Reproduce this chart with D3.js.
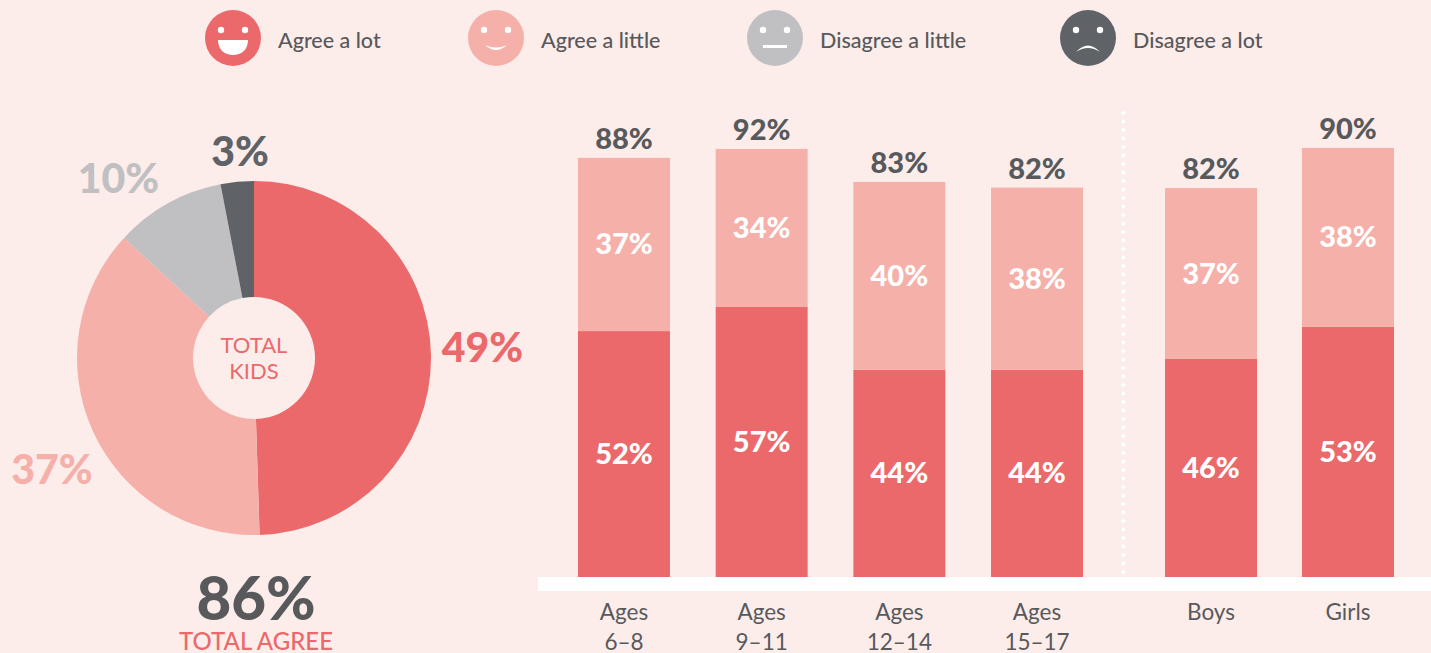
<!DOCTYPE html>
<html>
<head>
<meta charset="utf-8">
<script src="https://d3js.org/d3.v7.min.js"></script>
<style>
  html, body { margin: 0; padding: 0; background: #fcedeb; overflow: hidden; }
  text { font-family: Lato, "Open Sans", sans-serif; }
  .axis path, .axis line { display: none; }
</style>
</head>
<body>
<div id="chart"></div>
<script>
// legend + donut data
var answers = ["Agree a lot", "Agree a little", "Disagree a little", "Disagree a lot"];
var totalKids = [49, 37, 10, 3];

// stacked bars: heights, labels as printed
var ageGroups = ["Ages 6–8", "Ages 9–11", "Ages 12–14", "Ages 15–17"];
var genders = ["Boys", "Girls"];
var agreeLot = [52.1, 57.2, 43.9, 43.9, 46.2, 53];
var agreeLittle = [36.7, 33.5, 39.8, 38.6, 36.2, 37.9];
var agreeLotLabels = ["52%", "57%", "44%", "44%", "46%", "53%"];
var agreeLittleLabels = ["37%", "34%", "40%", "38%", "37%", "38%"];
var totalLabels = ["88%", "92%", "83%", "82%", "82%", "90%"];

var width = 1431,
  height = 653;
var RED = "#eb696b", PINK = "#f5b0a9", GREY = "#c0c0c2", DARK = "#5f6266", TEXT = "#58595b";
var colors = [RED, PINK, GREY, DARK];

var svg = d3.select("#chart")
  .append("svg")
  .attr("width", width)
  .attr("height", height)
  .style("display", "block");

// legend
var legendX = [233, 496, 775, 1088];
var mouths = [
  "M-15,2 H15 C15,12 8,17 0,17 C-8,17 -15,12 -15,2 Z",
  "M-11,7 Q0,17 11,7 Q0,12 -11,7 Z",
  "M-12,7 H12 V10 H-12 Z",
  "M-12,14 Q0,1 12,14 Q0,6 -12,14 Z"
];
var legend = svg.selectAll(".legend")
  .data(answers)
  .enter().append("g")
  .attr("class", "legend")
  .attr("transform", function(d, i) { return "translate(" + legendX[i] + ",38)"; });
legend.append("circle")
  .attr("r", 28)
  .style("fill", function(d, i) { return colors[i]; });
legend.selectAll(".eye")
  .data([-12, 12])
  .enter().append("circle")
  .attr("class", "eye")
  .attr("cx", function(d) { return d; })
  .attr("cy", -8)
  .attr("r", 3.2)
  .style("fill", "#fff");
legend.append("path")
  .attr("d", function(d, i) { return mouths[i]; })
  .style("fill", "#fff");
legend.append("text")
  .attr("x", 45)
  .attr("y", 10)
  .style("font-size", "21.5px")
  .style("font-weight", 500)
  .style("fill", TEXT)
  .text(function(d) { return d; });

// donut
var pie = d3.pie().sort(null);
var arc = d3.arc().innerRadius(61).outerRadius(177);
var donut = svg.append("g").attr("transform", "translate(254,358)");
donut.selectAll("path")
  .data(pie(totalKids))
  .enter().append("path")
  .attr("d", arc)
  .style("fill", function(d, i) { return colors[i]; });

var donutText = [
  { x: 482.5, y: 362, size: 41 },
  { x: 52, y: 484, size: 41 },
  { x: 118.5, y: 193, size: 41 },
  { x: 240, y: 166, size: 41 }
];
svg.selectAll(".pct")
  .data(totalKids)
  .enter().append("text")
  .attr("class", "pct")
  .attr("x", function(d, i) { return donutText[i].x; })
  .attr("y", function(d, i) { return donutText[i].y; })
  .attr("text-anchor", "middle")
  .style("font-size", function(d, i) { return donutText[i].size + "px"; })
  .style("font-weight", 900)
  .style("fill", function(d, i) { return colors[i]; })
  .text(function(d) { return d + "%"; });

svg.selectAll(".centre")
  .data(["TOTAL", "KIDS"])
  .enter().append("text")
  .attr("class", "centre")
  .attr("x", 254)
  .attr("y", function(d, i) { return 353 + i * 26; })
  .attr("text-anchor", "middle")
  .style("font-size", "22px")
  .style("fill", RED)
  .text(function(d) { return d; });

svg.append("text")
  .attr("x", 256)
  .attr("y", 620)
  .attr("text-anchor", "middle")
  .style("font-size", "60px")
  .style("font-weight", 900)
  .style("fill", TEXT)
  .text("86%");
svg.append("text")
  .attr("x", 256)
  .attr("y", 650)
  .attr("text-anchor", "middle")
  .style("font-size", "24px")
  .style("font-weight", 500)
  .style("fill", RED)
  .text("TOTAL AGREE");

// bars, two groups with their own band scale
var baseY = 577;
var y = d3.scaleLinear().domain([0, 100]).range([baseY, baseY - 472]);
var xAge = d3.scaleBand().domain(ageGroups).range([578, 1083]).paddingInner(0.332);
var xGender = d3.scaleBand().domain(genders).range([1165, 1394]).paddingInner(0.328);

var bars = ageGroups.concat(genders).map(function(name, i) {
  var scale = i < ageGroups.length ? xAge : xGender;
  return {
    name: name,
    x: scale(name),
    w: scale.bandwidth(),
    lot: agreeLot[i],
    little: agreeLittle[i],
    lotLabel: agreeLotLabels[i],
    littleLabel: agreeLittleLabels[i],
    total: totalLabels[i]
  };
});

// white baseline and dotted divider
svg.append("rect")
  .attr("x", 538)
  .attr("y", baseY)
  .attr("width", width - 538)
  .attr("height", 14)
  .style("fill", "#fff");
svg.append("line")
  .attr("x1", 1123.5)
  .attr("x2", 1123.5)
  .attr("y1", 113)
  .attr("y2", baseY)
  .style("stroke", "#fff")
  .style("stroke-width", 4)
  .style("stroke-linecap", "round")
  .style("stroke-dasharray", "0 8.5");

var bar = svg.selectAll(".bar")
  .data(bars)
  .enter().append("g")
  .attr("class", "bar");
bar.append("rect")
  .attr("x", function(d) { return d.x; })
  .attr("y", function(d) { return y(d.lot); })
  .attr("width", function(d) { return d.w; })
  .attr("height", function(d) { return baseY - y(d.lot); })
  .style("fill", RED);
bar.append("rect")
  .attr("x", function(d) { return d.x; })
  .attr("y", function(d) { return y(d.lot + d.little); })
  .attr("width", function(d) { return d.w; })
  .attr("height", function(d) { return y(d.lot) - y(d.lot + d.little); })
  .style("fill", PINK);

function barLabel(cls, color, textFn, yFn) {
  bar.append("text")
    .attr("class", cls)
    .attr("x", function(d) { return d.x + d.w / 2; })
    .attr("y", yFn)
    .attr("text-anchor", "middle")
    .style("font-size", "29px")
    .style("font-weight", 900)
    .style("fill", color)
    .text(textFn);
}
barLabel("lot", "#fff", function(d) { return d.lotLabel; }, function(d) { return y(d.lot / 2) + 10; });
barLabel("little", "#fff", function(d) { return d.littleLabel; }, function(d) { return y(d.lot + d.little / 2) + 10; });
barLabel("total", TEXT, function(d) { return d.total; }, function(d) { return y(d.lot + d.little) - 9; });

// axes, labels split on two lines
function drawAxis(scale) {
  var g = svg.append("g")
    .attr("class", "axis")
    .attr("transform", "translate(0,591)")
    .call(d3.axisBottom(scale).tickSize(0).tickPadding(0));
  g.selectAll(".tick text")
    .style("font-size", "22.5px")
    .style("fill", TEXT)
    .each(function(d) {
      var parts = d.split(" ");
      var t = d3.select(this).text(null).attr("y", 0).attr("dy", null);
      parts.forEach(function(p, i) {
        t.append("tspan")
          .attr("x", 0)
          .attr("y", 29 + i * 30)
          .text(p);
      });
    });
}
drawAxis(xAge);
drawAxis(xGender);
</script>
</body>
</html>
